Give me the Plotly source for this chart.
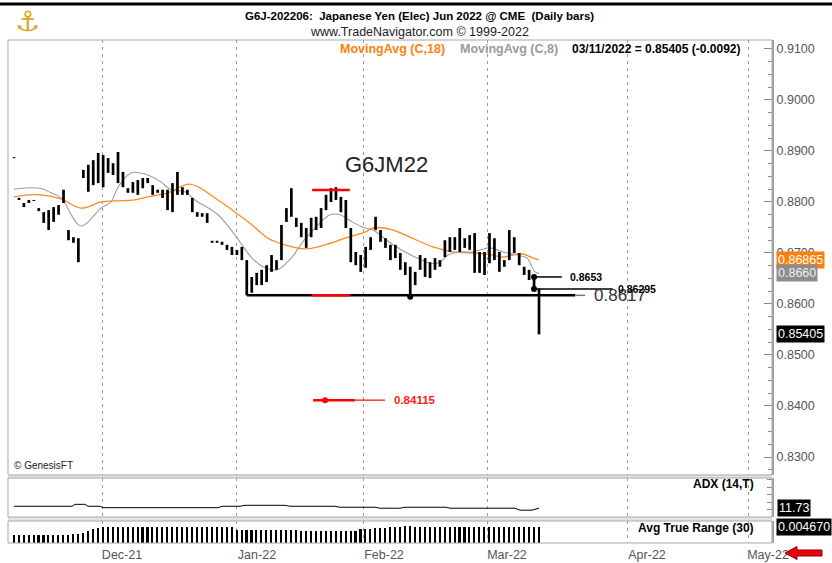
import plotly.graph_objects as go

# ---------------- data ----------------
highs = [0.8888, 0.8808, 0.8798, 0.8804, 0.8804, 0.8788, 0.8780, 0.8784, 0.8790, 0.8794,
         0.8824, 0.8745, 0.8731, 0.8729, 0.8863, 0.8873, 0.8882, 0.8896, 0.8892, 0.8886,
         0.8876, 0.8898, 0.8859, 0.8827, 0.8839, 0.8843, 0.8847, 0.8847, 0.8833, 0.8824,
         0.8824, 0.8824, 0.8837, 0.8859, 0.8829, 0.8824, 0.8808, 0.8780, 0.8778, 0.8778,
         0.8724, 0.8724, 0.8722, 0.8716, 0.8712, 0.8706, 0.8712, 0.8686, 0.8653, 0.8661,
         0.8667, 0.8676, 0.8696, 0.8686, 0.8755, 0.8788, 0.8827, 0.8769, 0.8759, 0.8749,
         0.8769, 0.8771, 0.8788, 0.8814, 0.8827, 0.8829, 0.8810, 0.8804, 0.8749, 0.8702,
         0.8696, 0.8712, 0.8731, 0.8771, 0.8745, 0.8729, 0.8716, 0.8716, 0.8700, 0.8682,
         0.8673, 0.8663, 0.8696, 0.8690, 0.8682, 0.8690, 0.8686, 0.8725, 0.8731, 0.8731,
         0.8749, 0.8729, 0.8735, 0.8739, 0.8702, 0.8702, 0.8739, 0.8729, 0.8702, 0.8686,
         0.8745, 0.8731, 0.8700, 0.8673, 0.8667, 0.8653, 0.8630]
lows = [0.8886, 0.8804, 0.8790, 0.8798, 0.8802, 0.8782, 0.8759, 0.8745, 0.8761, 0.8775,
        0.8798, 0.8725, 0.8720, 0.8682, 0.8847, 0.8820, 0.8833, 0.8837, 0.8829, 0.8857,
        0.8853, 0.8837, 0.8829, 0.8818, 0.8818, 0.8814, 0.8827, 0.8837, 0.8814, 0.8818,
        0.8808, 0.8784, 0.8780, 0.8814, 0.8814, 0.8814, 0.8780, 0.8771, 0.8771, 0.8759,
        0.8720, 0.8720, 0.8716, 0.8706, 0.8696, 0.8696, 0.8686, 0.8617, 0.8622, 0.8637,
        0.8637, 0.8643, 0.8663, 0.8667, 0.8686, 0.8761, 0.8771, 0.8751, 0.8731, 0.8710,
        0.8731, 0.8745, 0.8749, 0.8784, 0.8800, 0.8804, 0.8780, 0.8749, 0.8682, 0.8676,
        0.8663, 0.8671, 0.8706, 0.8745, 0.8722, 0.8710, 0.8686, 0.8690, 0.8667, 0.8657,
        0.8614, 0.8637, 0.8667, 0.8653, 0.8651, 0.8667, 0.8673, 0.8692, 0.8702, 0.8706,
        0.8702, 0.8710, 0.8706, 0.8661, 0.8661, 0.8657, 0.8680, 0.8686, 0.8663, 0.8673,
        0.8686, 0.8700, 0.8676, 0.8657, 0.8647, 0.86295, 0.85405]

ma18_idx = [0, 2.83, 5.45, 9.49, 13.53, 17.57, 20.4, 24.43, 27.05, 31.09, 35.53, 41.19, 44.62,
            48.05, 51.28, 54.71, 58.75, 61.38, 64.81, 66.83, 70.87, 72.48, 75.91, 79.95, 84.6,
            88.63, 92.67, 96.71, 98.73, 101.56, 102.77, 104.8, 106]
ma18_vals = [0.8810, 0.8814, 0.8814, 0.8806, 0.8788, 0.8800, 0.8802, 0.8804, 0.8810, 0.8818,
             0.8835, 0.8804, 0.8780, 0.8755, 0.8729, 0.8716, 0.8708, 0.8712, 0.8722, 0.8729,
             0.8741, 0.8749, 0.8747, 0.8731, 0.8712, 0.8702, 0.8700, 0.8696, 0.8692, 0.8698,
             0.8698, 0.8690, 0.86865]
ma8_idx = [0, 5.25, 7.47, 9.49, 13.53, 17.57, 19.58, 21.0, 23.62, 27.05, 29.68, 31.7, 34.52,
           36.54, 41.19, 44.62, 48.05, 50.27, 53.1, 56.13, 58.15, 61.38, 63.8, 65.82, 68.24,
           70.87, 72.48, 76.52, 81.37, 83.99, 86.01, 87.63, 90.05, 92.47, 94.08, 96.11, 98.73,
           101.56, 103.58, 105.19, 106]
ma8_vals = [0.8825, 0.8827, 0.8818, 0.8808, 0.8753, 0.8788, 0.8800, 0.8829, 0.8857, 0.8853,
            0.8839, 0.8824, 0.8820, 0.8804, 0.8775, 0.8735, 0.8690, 0.8673, 0.8667, 0.8692,
            0.8720, 0.8755, 0.8775, 0.8775, 0.8761, 0.8749, 0.8745, 0.8716, 0.8690, 0.8680,
            0.8682, 0.8696, 0.8702, 0.8702, 0.8706, 0.8710, 0.8702, 0.8696, 0.8690, 0.8663, 0.8660]

adx_idx = [0, 11.71, 12.32, 14.33, 14.94, 17.37, 17.97, 41.19, 42, 45.63, 46.64, 54.71, 55.72,
           64.81, 65.82, 72.89, 73.9, 77.93, 78.94, 87.22, 88.03, 101.15, 102.16, 104.59, 106]
adx_vals = [14.3, 14.3, 16.9, 16.9, 14.3, 14.3, 12.4, 12.4, 14.3, 14.3, 15.6, 15.6, 14.3,
            14.3, 13.0, 13.0, 11.7, 11.7, 13.0, 13.0, 11.7, 11.7, 9.1, 9.1, 11.73]

atr_vals = ([0.0022, 0.0022, 0.0023, 0.0023, 0.0023, 0.0023, 0.0023, 0.0024, 0.0024, 0.0024,
             0.0024, 0.0024, 0.0025, 0.0025, 0.0030, 0.0035, 0.0040, 0.0044]
            + [0.0046] * 27 + [0.0039] * 13 + [0.0036] * 12
            + [0.0040, 0.0041, 0.0042, 0.0043, 0.0044, 0.0045, 0.0046, 0.0047, 0.0048, 0.0049,
               0.0049] + [0.0047] * 25 + [0.00467])

month_pos = [17.77, 45.02, 70.66, 95.5, 123.77, 148.2]
month_labels = ["Dec-21", "Jan-22", "Feb-22", "Mar-22", "Apr-22", "May-22"]
price_ticks = [0.83, 0.84, 0.85, 0.86, 0.87, 0.88, 0.89, 0.90, 0.91]

last_close = 0.85405
last_change = -0.0092
last_ma18 = 0.86865
last_ma8 = 0.8660
last_adx = 11.73
last_atr = 0.004670
support = 0.8617
bar_hi = 0.8653
bar_lo = 0.86295
peak_level = 0.88235
target = 0.84115

FONT = "Liberation Sans, Arial, sans-serif"

# ---------------- traces ----------------
n = len(highs)
bx, by = [], []
for i, (h, l) in enumerate(zip(highs, lows)):
    bx += [i, i, None]
    by += [l, h, None]

fig = go.Figure()
fig.add_trace(go.Scatter(x=ma18_idx, y=ma18_vals, mode="lines", line=dict(color="#FF8A1E", width=1.3),
                         line_shape="spline", hoverinfo="skip", yaxis="y"))
fig.add_trace(go.Scatter(x=ma8_idx, y=ma8_vals, mode="lines", line=dict(color="#9E9E9E", width=1.1),
                         line_shape="spline", hoverinfo="skip", yaxis="y"))
fig.add_trace(go.Scatter(x=bx, y=by, mode="lines", line=dict(color="black", width=2.7),
                         hoverinfo="skip", yaxis="y"))
fig.add_trace(go.Scatter(x=[80, n - 2, n - 2], y=[lows[80], highs[n - 2], lows[n - 2]], mode="markers",
                         marker=dict(color="black", size=6), hoverinfo="skip", yaxis="y"))
fig.add_trace(go.Scatter(x=[62.8], y=[target], mode="markers", marker=dict(color="#FF0000", size=6),
                         hoverinfo="skip", yaxis="y"))
fig.add_trace(go.Scatter(x=adx_idx, y=adx_vals, mode="lines", line=dict(color="black", width=1),
                         hoverinfo="skip", yaxis="y2"))
fig.add_trace(go.Bar(x=list(range(n)), y=atr_vals, width=0.32, marker=dict(color="black", line_width=0),
                     hoverinfo="skip", yaxis="y3"))

# ---------------- geometry ----------------
PT, PB = 40, 543
PH = PB - PT
def py(Y):
    return (PB - Y) / PH
def px(X):
    return (X - 8) / 764

shapes = []
shapes.append(dict(type="line", xref="paper", yref="paper", x0=-0.02, x1=1.1, y0=py(4), y1=py(4),
                   line=dict(color="black", width=3)))
for y0, y1 in [(475, 478), (517, 521)]:
    shapes.append(dict(type="rect", xref="paper", yref="paper", x0=0, x1=1, y0=py(y1), y1=py(y0),
                       fillcolor="#E4E4E4", line=dict(width=0)))
for ax in ["y", "y2", "y3"]:
    shapes.append(dict(type="rect", xref="paper", yref=ax + " domain", x0=0, x1=1, y0=0, y1=1,
                       line=dict(color="#A8A8A8", width=1)))
shapes += [
    dict(type="line", xref="x", yref="y", x0=47, x1=113.3, y0=support, y1=support,
         line=dict(color="black", width=2.5)),
    dict(type="line", xref="x", yref="y", x0=113.3, x1=115.3, y0=support, y1=support,
         line=dict(color="#777", width=1.5)),
    dict(type="line", xref="x", yref="y", x0=60.2, x1=67.8, y0=peak_level, y1=peak_level,
         line=dict(color="#FF0000", width=2.5)),
    dict(type="line", xref="x", yref="y", x0=60.2, x1=67.8, y0=support, y1=support,
         line=dict(color="#FF0000", width=2.5)),
    dict(type="line", xref="x", yref="y", x0=60.4, x1=68.85, y0=target, y1=target,
         line=dict(color="#FF0000", width=2.5)),
    dict(type="line", xref="x", yref="y", x0=68.85, x1=74.9, y0=target, y1=target,
         line=dict(color="#FF0000", width=1.2)),
    dict(type="line", xref="x", yref="y", x0=n - 2, x1=110.6, y0=bar_hi, y1=bar_hi,
         line=dict(color="black", width=1.5)),
    dict(type="line", xref="x", yref="y", x0=n - 2, x1=120.9, y0=bar_lo, y1=bar_lo,
         line=dict(color="black", width=1.5)),
]
shapes.append(dict(type="path", xref="paper", yref="paper", xsizemode="pixel", ysizemode="pixel",
                   xanchor=1.0, yanchor=0.0,
                   path="M 13,-10 L 25,-3.5 L 25,-7 L 50,-7 L 50,-13 L 25,-13 L 25,-16.5 Z",
                   fillcolor="#E8000B", line=dict(color="#8B0000", width=1)))

ann = []
def txt(text, x, y, xref="paper", yref="paper", size=12, color="black", bold=False,
        xanchor="left", yanchor="middle", bg=None):
    d = dict(text=("<b>%s</b>" % text) if bold else text, x=x, y=y, xref=xref, yref=yref,
             showarrow=False, xanchor=xanchor, yanchor=yanchor,
             font=dict(family=FONT, size=size, color=color))
    if bg:
        d.update(bgcolor=bg, borderpad=1)
    ann.append(d)

ann.append(dict(text="⚓", x=px(27), y=py(22), xref="paper", yref="paper", showarrow=False,
                xanchor="center", yanchor="middle",
                font=dict(family="DejaVu Sans", size=28, color="#D9A820")))
txt("G6J-202206:  Japanese Yen (Elec) Jun 2022 @ CME  (Daily bars)", px(419), py(16), size=11.5,
    bold=True, xanchor="center")
txt("www.TradeNavigator.com © 1999-2022", px(419), py(32), size=12.5, xanchor="center", color="#222")
txt("MovingAvg (C,18)", px(338), py(49), size=12.5, color="#FF7F0E", bold=True)
txt("MovingAvg (C,8)", px(458), py(49), size=12.5, color="#9A9A9A", bold=True)
txt("%s = %.5f (%.4f)" % ("03/11/2022", last_close, last_change), px(570), py(49), size=12,
    bold=True)
txt("G6JM22", px(343), py(165), size=22, color="#222")
txt("© GenesisFT", px(12), py(465), size=10, color="#222")
txt("ADX (14,T)", px(756), py(484), size=12, bold=True, xanchor="right")
txt("Avg True Range (30)", px(756), py(528), size=12, bold=True, xanchor="right")
txt("%.4f" % support, 116.7, support, xref="x", yref="y", size=17, color="#333")
txt("%.4f" % bar_hi, 111.85, bar_hi, xref="x", yref="y", size=10.5, bold=True)
txt("%.5f" % bar_lo, 121.54, bar_lo, xref="x", yref="y", size=10.5, bold=True)
txt("%.5f" % target, 76.3, target, xref="x", yref="y", size=11.5, bold=True, color="#FF1A1A")
txt("%.5f" % last_ma18, px(776), last_ma18, yref="y", size=12.5, color="white", bg="#FF7F0E")
txt("%.4f" % last_ma8, px(776), last_ma8, yref="y", size=12.5, color="#F0F0F0", bg="#8C8C8C")
txt("%.5f" % last_close, px(776), last_close, yref="y", size=12.5, color="white", bg="black")
txt("%.2f" % last_adx, px(777), last_adx, yref="y2", size=12.5, color="white", bg="black")
txt("%.6f" % last_atr, px(776), last_atr, yref="y3", size=12.5, color="white", bg="black")

fig.update_layout(
    width=832, height=563, margin=dict(l=8, r=60, t=40, b=20, autoexpand=False),
    paper_bgcolor="white", plot_bgcolor="white", showlegend=False,
    font=dict(family=FONT), bargap=0,
    shapes=shapes, annotations=ann,
    xaxis=dict(range=[-1.21, 153.04], anchor="y3", tickvals=month_pos, ticktext=month_labels,
               showgrid=True, gridcolor="#9A9A9A", gridwidth=1, griddash="3px,4px",
               zeroline=False, showline=False, ticks="", ticklabelshift=20, ticklabelstandoff=2,
               automargin=False, tickfont=dict(family=FONT, size=12.5, color="#555")),
    yaxis=dict(domain=[py(475), 1], range=[0.82647, 0.91176], side="right", anchor="x",
               tickvals=price_ticks, tickformat=".4f", ticks="inside", ticklen=8, tickcolor="#888",
               showline=True, linecolor="#A0A0A0", linewidth=2, showgrid=False, zeroline=False,
               automargin=False,
               minor=dict(ticks="inside", ticklen=4, dtick=0.0025, tickcolor="#888", showgrid=False),
               tickfont=dict(family=FONT, size=12.5, color="#555")),
    yaxis2=dict(domain=[py(517), py(478)], range=[0, 52], side="right", anchor="x",
                showticklabels=False, ticks="inside", ticklen=5, dtick=10, tickcolor="#888",
                automargin=False,
                showline=True, linecolor="#A0A0A0", linewidth=2, showgrid=False, zeroline=False),
    yaxis3=dict(domain=[0, py(521)], range=[0, 0.0064], side="right", anchor="x",
                showticklabels=False, ticks="", showline=True, linecolor="#A0A0A0", linewidth=2,
                automargin=False, showgrid=False, zeroline=False),
)

fig.write_html("out.html", config={"displayModeBar": False},
               post_script="document.body.style.margin='0px';")
